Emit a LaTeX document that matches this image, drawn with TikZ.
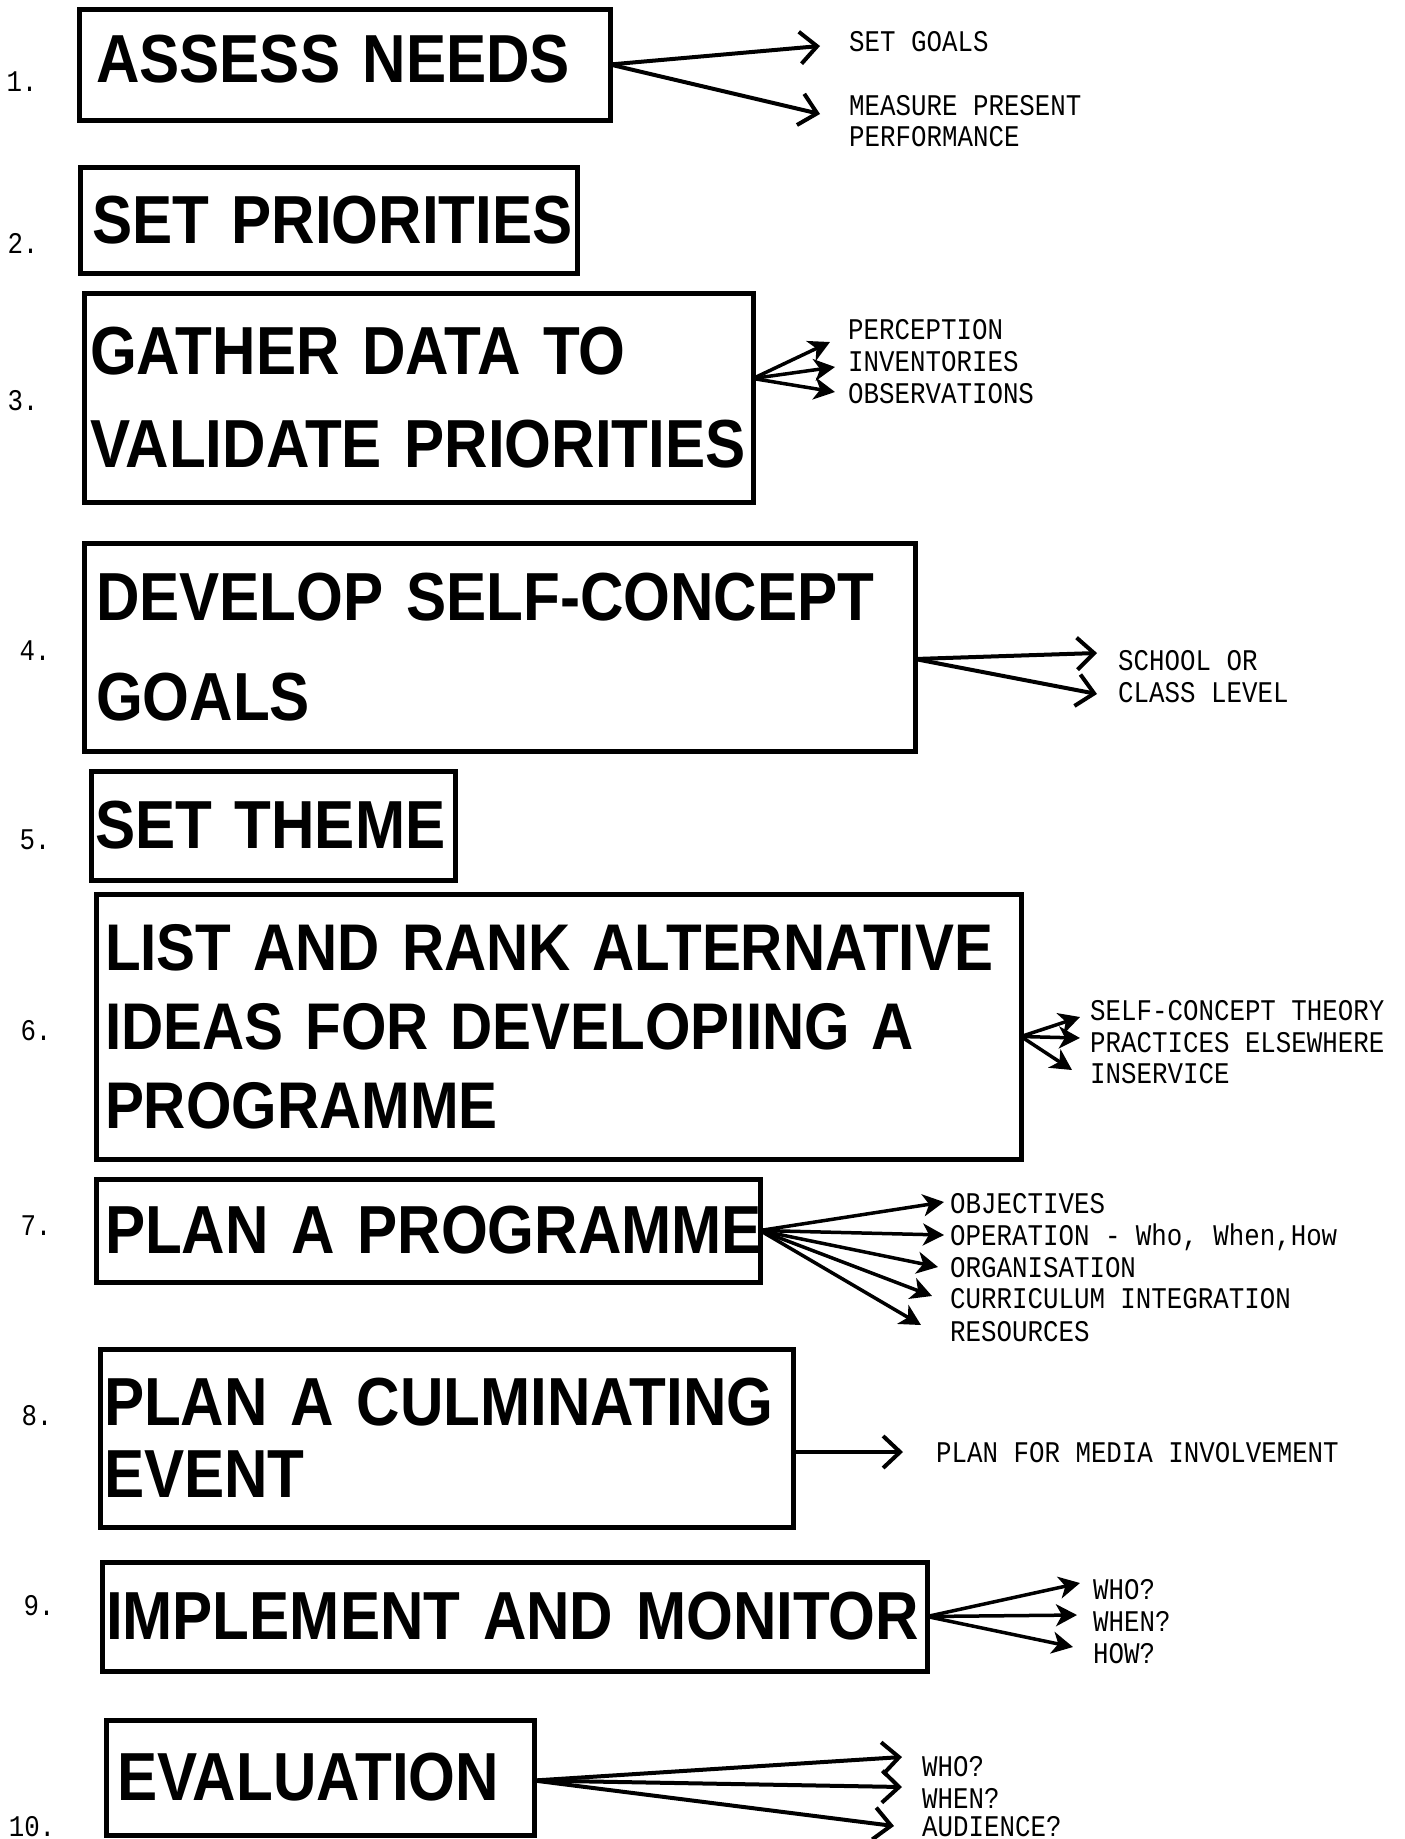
\documentclass[tikz,border=0pt]{standalone}
\usepackage{fontspec}
\newfontfamily\boxfont{Liberation Sans}[FakeStretch=0.885]
\newfontfamily\notefont{Liberation Mono}[FakeStretch=0.86]
\usetikzlibrary{arrows.meta}
% bold step font with a tighter word space
\newcommand\stepfont[2]{\boxfont\bfseries\fontsize{#1}{#2}\selectfont\fontdimen2\font=11pt\relax}

\begin{document}
\begin{tikzpicture}[
  x=1pt, y=-1pt,
  stepbox/.style={
    draw, line width=5pt, anchor=north west, outer sep=0pt,
    inner ysep=0pt, align=left,
    execute at begin node={\hyphenpenalty=10000\hfuzz=200pt},
    font=\stepfont{68}{#1}
  },
  stepbox/.default=80,
  notetxt/.style={
    anchor=west, inner sep=0pt, text height=19pt, text depth=0pt,
    font=\notefont\fontsize{30}{32}\selectfont
  },
  numtxt/.style={inner sep=0pt, font=\notefont\fontsize{30}{32}\selectfont},
  barb/.style={-{Straight Barb[length=17pt, width=32pt]}, line width=4pt},
  fanarr/.style={-{Stealth[length=21pt, width=22pt, inset=6pt]}, line width=3.5pt}
]

\fill[white] (0,0) rectangle (1405,1839);
\useasboundingbox (0,0) rectangle (1405,1839);

%% Step boxes, top to bottom (~ keeps each line of a box on one line)
\node[stepbox, inner xsep=17pt, text width=497pt, minimum height=111pt, text depth=12pt] (assess) at (79,9) {ASSESS~NEEDS};
\node[stepbox, inner xsep=12pt, text width=473pt, minimum height=106pt] (priorities) at (80,167) {SET~PRIORITIES};
\node[stepbox=93, inner xsep=6pt, text width=657pt, minimum height=209pt] (gather) at (84,293) {GATHER~DATA~TO\\VALIDATE~PRIORITIES};
\node[stepbox=100, inner xsep=12pt, text width=807pt, minimum height=208pt] (goals) at (84,543) {DEVELOP~SELF-CONCEPT\\GOALS};
\node[stepbox, inner xsep=4pt, text width=356pt, minimum height=109pt] (theme) at (91,771) {SET~THEME};
\node[stepbox, font=\stepfont{66}{79},
      inner xsep=9pt, text width=907pt, minimum height=265pt] (ideas) at (96,894) {LIST~AND~RANK~ALTERNATIVE\\IDEAS~FOR~DEVELOPIING~A\\PROGRAMME};
\node[stepbox, inner xsep=9pt, text width=646pt, minimum height=103pt] (plan) at (96,1179) {PLAN~A~PROGRAMME};
\node[stepbox=72, inner xsep=4pt, text width=685pt, minimum height=178pt] (event) at (100,1349) {PLAN~A~CULMINATING\\EVENT};
\node[stepbox, inner xsep=4pt, text width=817pt, minimum height=109pt] (monitor) at (102,1562) {IMPLEMENT~AND~MONITOR};
\node[stepbox, inner xsep=11pt, text width=406pt, minimum height=115pt] (evaluate) at (106,1720) {EVALUATION};

%% Step numbers
\foreach \n/\x/\y in {1/22/82, 2/23/243, 3/23/401, 4/35/651, 5/35/840,
                      6/36/1031, 7/36/1226, 8/37/1416, 9/39/1606, 10/32/1827}
  \node[numtxt] (num\n) at (\x,\y) {\n.};

%% 1. assess needs
\node[notetxt] (setgoals) at (849,42)  {SET GOALS};
\node[notetxt] (measure)  at (849,106) {MEASURE PRESENT};
\node[notetxt] (perform)  at (849,137) {PERFORMANCE};
\coordinate (setgoals-tip) at (820,46);
\coordinate (measure-tip)  at (820,114);
\draw[barb] (assess.east) -- (setgoals-tip);
\draw[barb] (assess.east) -- (measure-tip);

%% 3. gather data
\node[notetxt] (percep) at (848,330) {PERCEPTION};
\node[notetxt] (invent) at (848,362) {INVENTORIES};
\node[notetxt] (observ) at (848,394) {OBSERVATIONS};
\coordinate (percep-tip) at (830,342);
\coordinate (invent-tip) at (835,367);
\coordinate (observ-tip) at (835,392);
\foreach \t in {percep-tip, invent-tip, observ-tip}
  \draw[fanarr] ([yshift=19pt]gather.east) -- (\t);

%% 4. self-concept goals
\node[notetxt] (school)   at (1118,661) {SCHOOL OR};
\node[notetxt] (classlvl) at (1118,693) {CLASS LEVEL};
\coordinate (school-tip)   at (1097,653);
\coordinate (classlvl-tip) at (1097,694);
\draw[barb] ([yshift=-12pt]goals.east) -- (school-tip);
\draw[barb] ([yshift=-12pt]goals.east) -- (classlvl-tip);

%% 6. alternative ideas
\node[notetxt] (theory)    at (1090,1011) {SELF-CONCEPT THEORY};
\node[notetxt] (elsewhere) at (1090,1043) {PRACTICES ELSEWHERE};
\node[notetxt] (inservice) at (1090,1074) {INSERVICE};
\coordinate (theory-tip)    at (1080,1017);
\coordinate (elsewhere-tip) at (1080,1038);
\coordinate (inservice-tip) at (1072,1070);
\foreach \t in {theory-tip, elsewhere-tip, inservice-tip}
  \draw[fanarr] ([yshift=-10pt]ideas.east) -- (\t);

%% 7. plan a programme
\node[notetxt] (objectives) at (950,1204) {OBJECTIVES};
\node[notetxt] (operation)  at (950,1236) {OPERATION - Who, When,How};
\node[notetxt] (organise)   at (950,1268) {ORGANISATION};
\node[notetxt] (curric)     at (950,1299) {CURRICULUM INTEGRATION};
\node[notetxt] (resources)  at (950,1332) {RESOURCES};
\coordinate (objectives-tip) at (944,1202);
\coordinate (operation-tip)  at (944,1235);
\coordinate (organise-tip)   at (938,1267);
\coordinate (curric-tip)     at (932,1296);
\coordinate (resources-tip)  at (921,1325);
\foreach \t in {objectives-tip, operation-tip, organise-tip, curric-tip, resources-tip}
  \draw[fanarr] (plan.east) -- (\t);

%% 8. culminating event
\node[notetxt] (media) at (936,1453) {PLAN FOR MEDIA INVOLVEMENT};
\coordinate (media-tip) at (903,1452);
\draw[barb] ([yshift=-14pt]event.east) -- (media-tip);

%% 9. implement and monitor
\node[notetxt] (who9)  at (1093,1590) {WHO?};
\node[notetxt] (when9) at (1093,1622) {WHEN?};
\node[notetxt] (how9)  at (1093,1654) {HOW?};
\coordinate (who9-tip)  at (1080,1583);
\coordinate (when9-tip) at (1077,1615);
\coordinate (how9-tip)  at (1073,1647);
\foreach \t in {who9-tip, when9-tip, how9-tip}
  \draw[fanarr] (monitor.east) -- (\t);

%% 10. evaluation
\node[notetxt] (who10)    at (922,1767) {WHO?};
\node[notetxt] (when10)   at (922,1799) {WHEN?};
\node[notetxt] (audience) at (922,1827) {AUDIENCE?};
\coordinate (who10-tip)      at (902,1757);
\coordinate (when10-tip)     at (902,1787);
\coordinate (audience-tip)   at (894,1826);
\foreach \t in {who10-tip, when10-tip, audience-tip}
  \draw[barb] ([yshift=-3pt]evaluate.east) -- (\t);

\end{tikzpicture}
\end{document}
